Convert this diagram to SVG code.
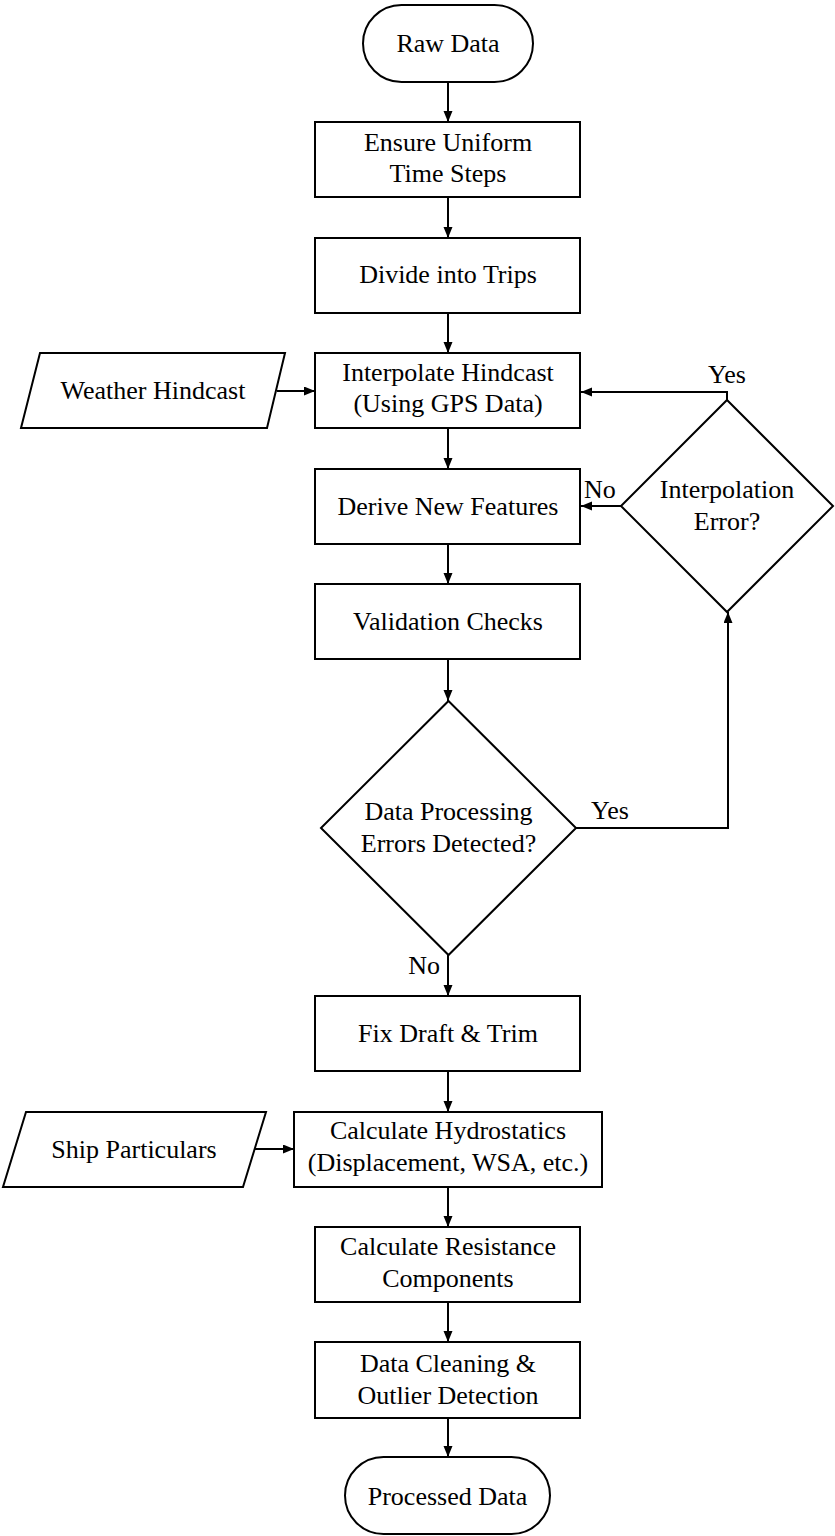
<svg xmlns="http://www.w3.org/2000/svg" width="835" height="1536" viewBox="0 0 835 1536">
<style>
.s{fill:#fff;stroke:#000;stroke-width:2}
.t{font-family:"Liberation Serif","Times New Roman",serif;font-size:26px;fill:#000;text-anchor:middle}
.l{font-family:"Liberation Serif","Times New Roman",serif;font-size:26px;fill:#000}
.c{fill:none;stroke:#000;stroke-width:2}
</style>
<defs>
<marker id="ah" markerUnits="userSpaceOnUse" markerWidth="12" markerHeight="10" refX="11" refY="4.5" orient="auto">
<path d="M0,0 L11,4.5 L0,9 z" fill="#000"/>
</marker>
</defs>
<rect width="835" height="1536" fill="#fff"/>
<g id="connectors">
<path class="c" marker-end="url(#ah)" d="M448,82 V122"/>
<path class="c" marker-end="url(#ah)" d="M448,197 V238"/>
<path class="c" marker-end="url(#ah)" d="M448,313 V353"/>
<path class="c" marker-end="url(#ah)" d="M448,428 V469"/>
<path class="c" marker-end="url(#ah)" d="M448,544 V584"/>
<path class="c" marker-end="url(#ah)" d="M448,659 V701"/>
<path class="c" marker-end="url(#ah)" d="M448,955 V996"/>
<path class="c" marker-end="url(#ah)" d="M448,1071 V1112"/>
<path class="c" marker-end="url(#ah)" d="M448,1187 V1227"/>
<path class="c" marker-end="url(#ah)" d="M448,1302 V1342"/>
<path class="c" marker-end="url(#ah)" d="M448,1418 V1457"/>
<path class="c" marker-end="url(#ah)" d="M277,391 H315"/>
<path class="c" marker-end="url(#ah)" d="M255,1149 H294"/>
<path class="c" marker-end="url(#ah)" d="M727,400 V392 H581"/>
<path class="c" marker-end="url(#ah)" d="M621,506 H581"/>
<path class="c" marker-end="url(#ah)" d="M576,828 H728 V612"/>
<text class="l" x="727" y="383" text-anchor="middle">Yes</text>
<text class="l" x="584" y="498">No</text>
<text class="l" x="591" y="819">Yes</text>
<text class="l" x="440" y="974" text-anchor="end">No</text>
</g>
<g id="raw-data">
<rect class="s" x="363" y="5" width="170" height="77" rx="38.5"/>
<text class="t" x="448" y="52">Raw Data</text>
</g>
<g id="ensure-uniform">
<rect class="s" x="315" y="122" width="265" height="75"/>
<text class="t" x="448" y="151">Ensure Uniform</text>
<text class="t" x="448" y="182">Time Steps</text>
</g>
<g id="divide-trips">
<rect class="s" x="315" y="238" width="265" height="75"/>
<text class="t" x="448" y="283">Divide into Trips</text>
</g>
<g id="weather-hindcast">
<polygon class="s" points="40,353 285,353 267,428 21,428"/>
<text class="t" x="153" y="399">Weather Hindcast</text>
</g>
<g id="interpolate-hindcast">
<rect class="s" x="315" y="353" width="265" height="75"/>
<text class="t" x="448" y="381">Interpolate Hindcast</text>
<text class="t" x="448" y="412">(Using GPS Data)</text>
</g>
<g id="derive-features">
<rect class="s" x="315" y="469" width="265" height="75"/>
<text class="t" x="448" y="515">Derive New Features</text>
</g>
<g id="interpolation-error">
<polygon class="s" points="727,400 833,506 727,612 621,506"/>
<text class="t" x="727" y="498">Interpolation</text>
<text class="t" x="727" y="530">Error?</text>
</g>
<g id="validation-checks">
<rect class="s" x="315" y="584" width="265" height="75"/>
<text class="t" x="448" y="630">Validation Checks</text>
</g>
<g id="data-processing-errors">
<polygon class="s" points="448.5,701 576,828 448.5,955 321,828"/>
<text class="t" x="448.5" y="820">Data Processing</text>
<text class="t" x="448.5" y="852">Errors Detected?</text>
</g>
<g id="fix-draft">
<rect class="s" x="315" y="996" width="265" height="75"/>
<text class="t" x="448" y="1042">Fix Draft &amp; Trim</text>
</g>
<g id="ship-particulars">
<polygon class="s" points="26,1112 266,1112 243,1187 3,1187"/>
<text class="t" x="134" y="1158">Ship Particulars</text>
</g>
<g id="calculate-hydrostatics">
<rect class="s" x="294" y="1112" width="308" height="75"/>
<text class="t" x="448" y="1139">Calculate Hydrostatics</text>
<text class="t" x="448" y="1171">(Displacement, WSA, etc.)</text>
</g>
<g id="calculate-resistance">
<rect class="s" x="315" y="1227" width="265" height="75"/>
<text class="t" x="448" y="1255">Calculate Resistance</text>
<text class="t" x="448" y="1287">Components</text>
</g>
<g id="data-cleaning">
<rect class="s" x="315" y="1342" width="265" height="76"/>
<text class="t" x="448" y="1372">Data Cleaning &amp;</text>
<text class="t" x="448" y="1404">Outlier Detection</text>
</g>
<g id="processed-data">
<rect class="s" x="345" y="1457" width="205" height="77" rx="38.5"/>
<text class="t" x="447.5" y="1505">Processed Data</text>
</g>
</svg>
